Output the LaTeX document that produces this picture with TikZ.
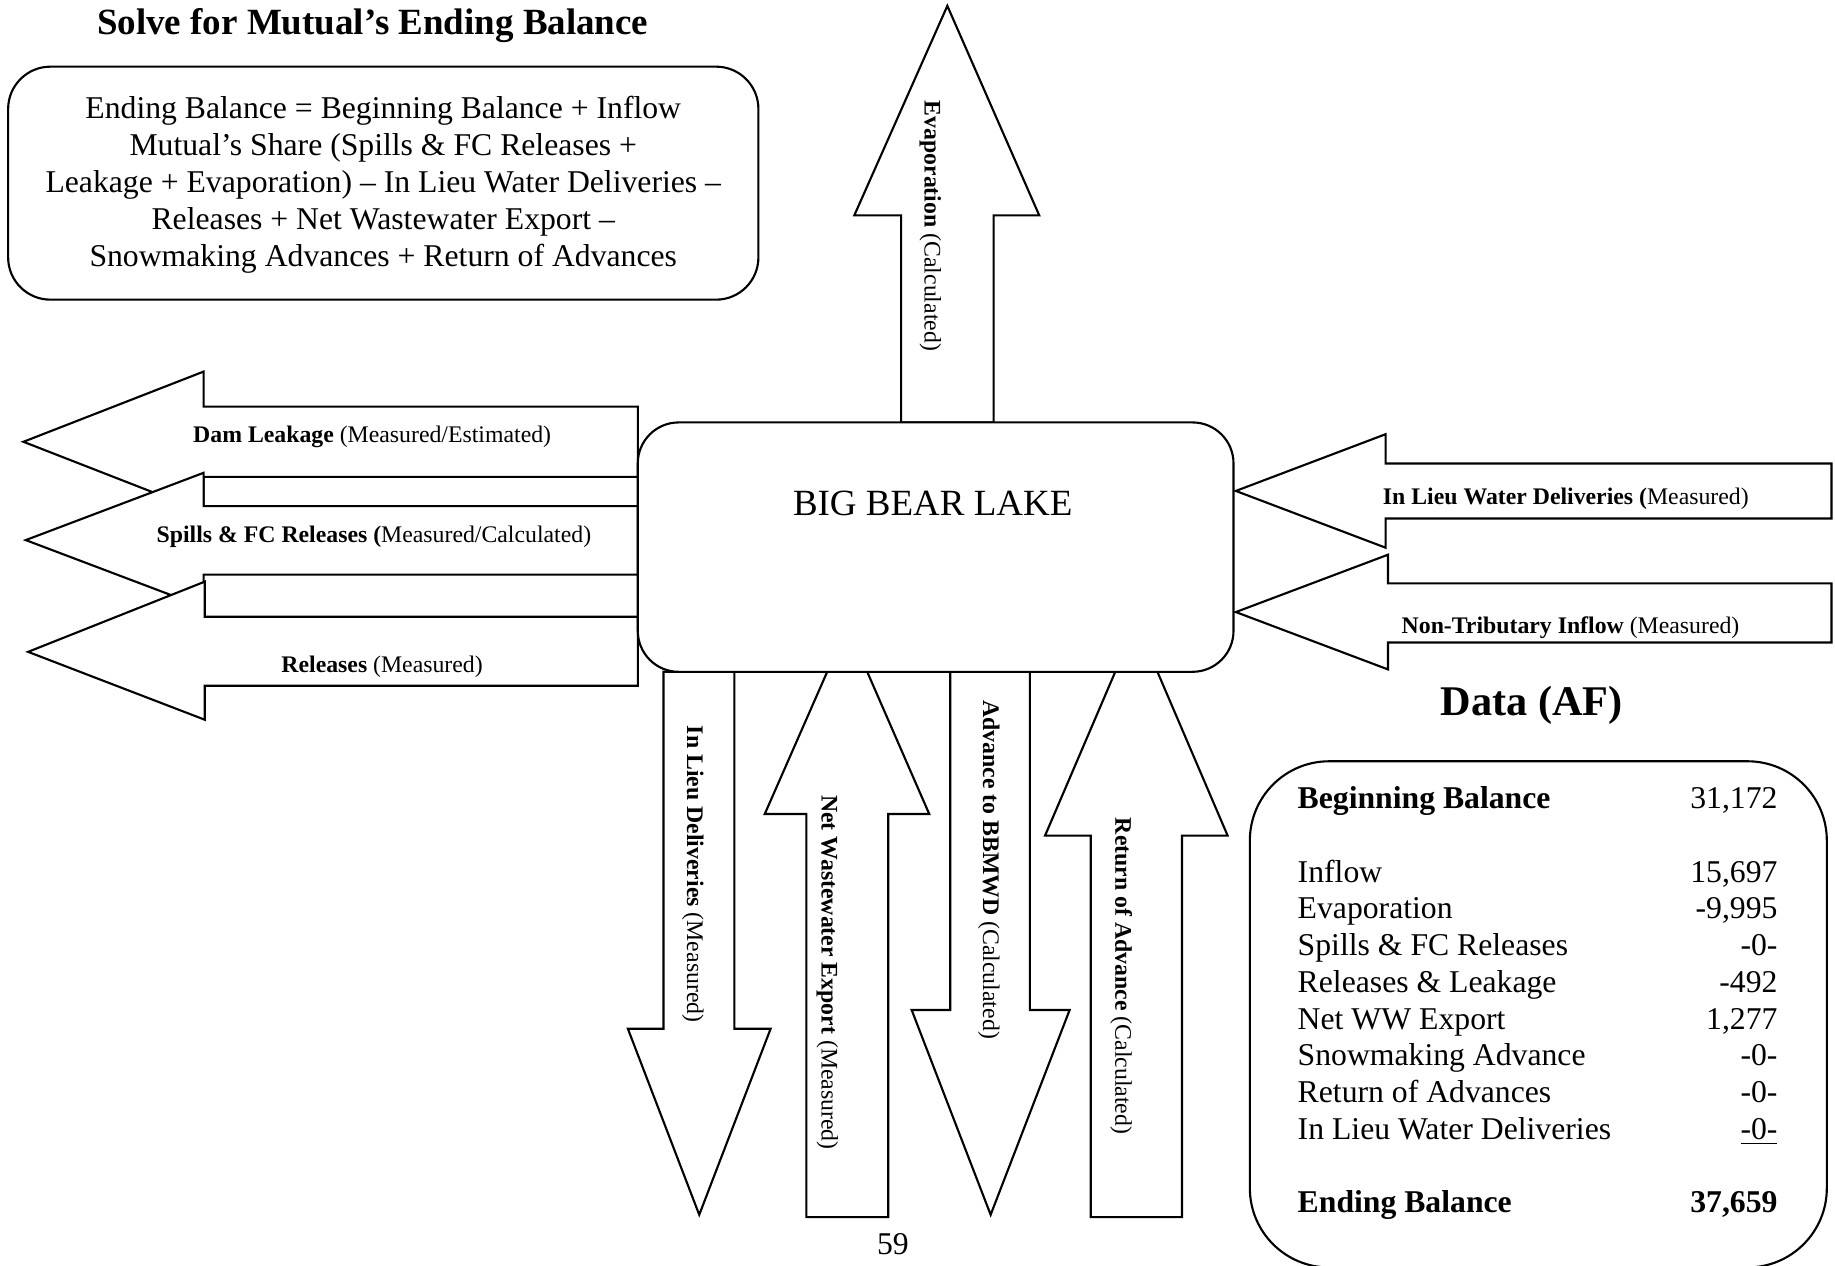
\documentclass[tikz,border=0pt]{standalone}
\usepackage{fontspec}
\setmainfont{Liberation Serif}
\usepackage{tikz}
\usepackage{array}

\begin{document}
\begin{tikzpicture}[x = 0.443pt, y = -0.443pt, line width = 0.8pt]
			\tikzstyle{block} = [draw=black, fill=white, line join=miter]
			\tikzstyle{panel} = [draw=black, fill=white, inner sep=0pt]
			\tikzstyle{lbl} = [font=\fontsize{9}{11}\selectfont, inner sep=0pt]
			\tikzstyle{vlbl} = [lbl, rotate=-90]
			
			\useasboundingbox (0, 0) rectangle (1568, 1081);
			
			% outflows to the left
			\draw[block] (545, 347.5) -- (174, 347.5) -- (174, 317.5) -- (20, 377.5) -- (174, 437.5) -- (174, 407.5) -- (545, 407.5) -- cycle;
			\draw[block] (545, 432.5) -- (174, 432.5) -- (174, 404) -- (22, 461.5) -- (174, 519) -- (174, 491) -- (545, 491) -- cycle;
			\draw[block] (545, 527) -- (175, 527) -- (175, 497) -- (24, 557) -- (175, 615) -- (175, 586) -- (545, 586) -- cycle;
			
			% inflows from the right
			\draw[block] (1565, 396) -- (1184, 396) -- (1184, 371) -- (1056, 419.5) -- (1184, 468) -- (1184, 443) -- (1565, 443) -- cycle;
			\draw[block] (1565, 498.5) -- (1186, 498.5) -- (1186, 474) -- (1056, 523) -- (1186, 572) -- (1186, 549) -- (1565, 549) -- cycle;
			
			% evaporation
			\draw[block] (770, 361) -- (770, 184) -- (730, 184) -- (809.5, 5) -- (888, 184) -- (849, 184) -- (849, 361) -- cycle;
			
			% arrows below the lake
			\draw[block] (567, 574) -- (567, 879) -- (536.5, 879) -- (597.5, 1038) -- (658.5, 879) -- (627.5, 879) -- (627.5, 574) -- cycle;
			\draw[block] (689, 1040) -- (689, 695.5) -- (653.5, 695.5) -- (724, 535) -- (794, 695.5) -- (759, 695.5) -- (759, 1040) -- cycle;
			\draw[block] (812, 574) -- (812, 863) -- (779, 863) -- (846.5, 1038) -- (914, 863) -- (880, 863) -- (880, 574) -- cycle;
			\draw[block] (932, 1040) -- (932, 714) -- (893, 714) -- (971, 532) -- (1049, 714) -- (1010, 714) -- (1010, 1040) -- cycle;
			
			% boxes
			\node[panel, rounded corners=15.5pt, minimum width=225.5pt, minimum height=94.4pt]	at (799.5, 467.5)	(lake)		{};
			\node[panel, rounded corners=16pt, minimum width=284pt, minimum height=88.2pt]		at (327.5, 156.5)	(formbox)	{};
			\node[panel, rounded corners=30pt, minimum width=218.4pt, minimum height=191.6pt]	at (1314.5, 866.75)	(databox)	{};
			
			\node[font=\fontsize{14}{17}\selectfont]	at (797, 430)	(lakename)	{BIG BEAR LAKE};
			
			% titles
			\node[font=\fontsize{14}{17}\selectfont\bfseries]	at (318.5, 22)	(title)		{Solve for Mutual’s Ending Balance};
			\node[font=\fontsize{16}{19}\selectfont\bfseries]	at (1309, 603)	(datatitle)	{Data (AF)};
			
			\node[align=center, font=\fontsize{12}{14.05}\selectfont]	at (327.5, 158)	(formula)
				{Ending Balance = Beginning Balance + Inflow\\
				Mutual’s Share (Spills \& FC Releases +\\
				Leakage + Evaporation) – In Lieu Water Deliveries –\\
				Releases + Net Wastewater Export –\\
				Snowmaking Advances + Return of Advances};
			
			% arrow labels
			\node[lbl]	at (318, 373)		(leak)		{\textbf{Dam Leakage} (Measured/Estimated)};
			\node[lbl]	at (319.5, 459)		(spills)	{\textbf{Spills \& FC Releases (}Measured/Calculated)};
			\node[lbl]	at (326.5, 570)		(rel)		{\textbf{Releases} (Measured)};
			\node[lbl]	at (1338, 426)		(inlieuin)	{\textbf{In Lieu Water Deliveries (}Measured)};
			\node[lbl]	at (1342, 536)		(nontrib)	{\textbf{Non-Tributary Inflow} (Measured)};
			\node[vlbl]	at (795, 193)		(evap)		{\textbf{Evaporation} (Calculated)};
			\node[vlbl]	at (592, 747)		(inlieuout)	{\textbf{In Lieu Deliveries} (Measured)};
			\node[vlbl]	at (707, 831)		(netww)		{\textbf{Net Wastewater Export} (Measured)};
			\node[vlbl]	at (845, 743)		(adv)		{\textbf{Advance to BBMWD} (Calculated)};
			\node[vlbl]	at (958, 834)		(retadv)	{\textbf{Return of Advance} (Calculated)};
			
			% data table
			\node[anchor=base west, inner sep=0pt, font=\fontsize{12}{13.9}\selectfont]	at (1108, 691)	(datatab)
				{\begin{tabular*}{181.6pt}[t]{@{}l@{\extracolsep{\fill}}r@{}}
				\textbf{Beginning Balance} & 31,172\\
				& \\
				Inflow & 15,697\\
				Evaporation & -9,995\\
				Spills \& FC Releases & -0-\\
				Releases \& Leakage & -492\\
				Net WW Export & 1,277\\
				Snowmaking Advance & -0-\\
				Return of Advances & -0-\\
				In Lieu Water Deliveries & \underline{-0-}\\
				& \\
				\textbf{Ending Balance} & \textbf{37,659}
				\end{tabular*}};
			
			\node[font=\fontsize{12}{14}\selectfont]	at (763, 1063)	(page)	{59};
		\end{tikzpicture}
\end{document}
